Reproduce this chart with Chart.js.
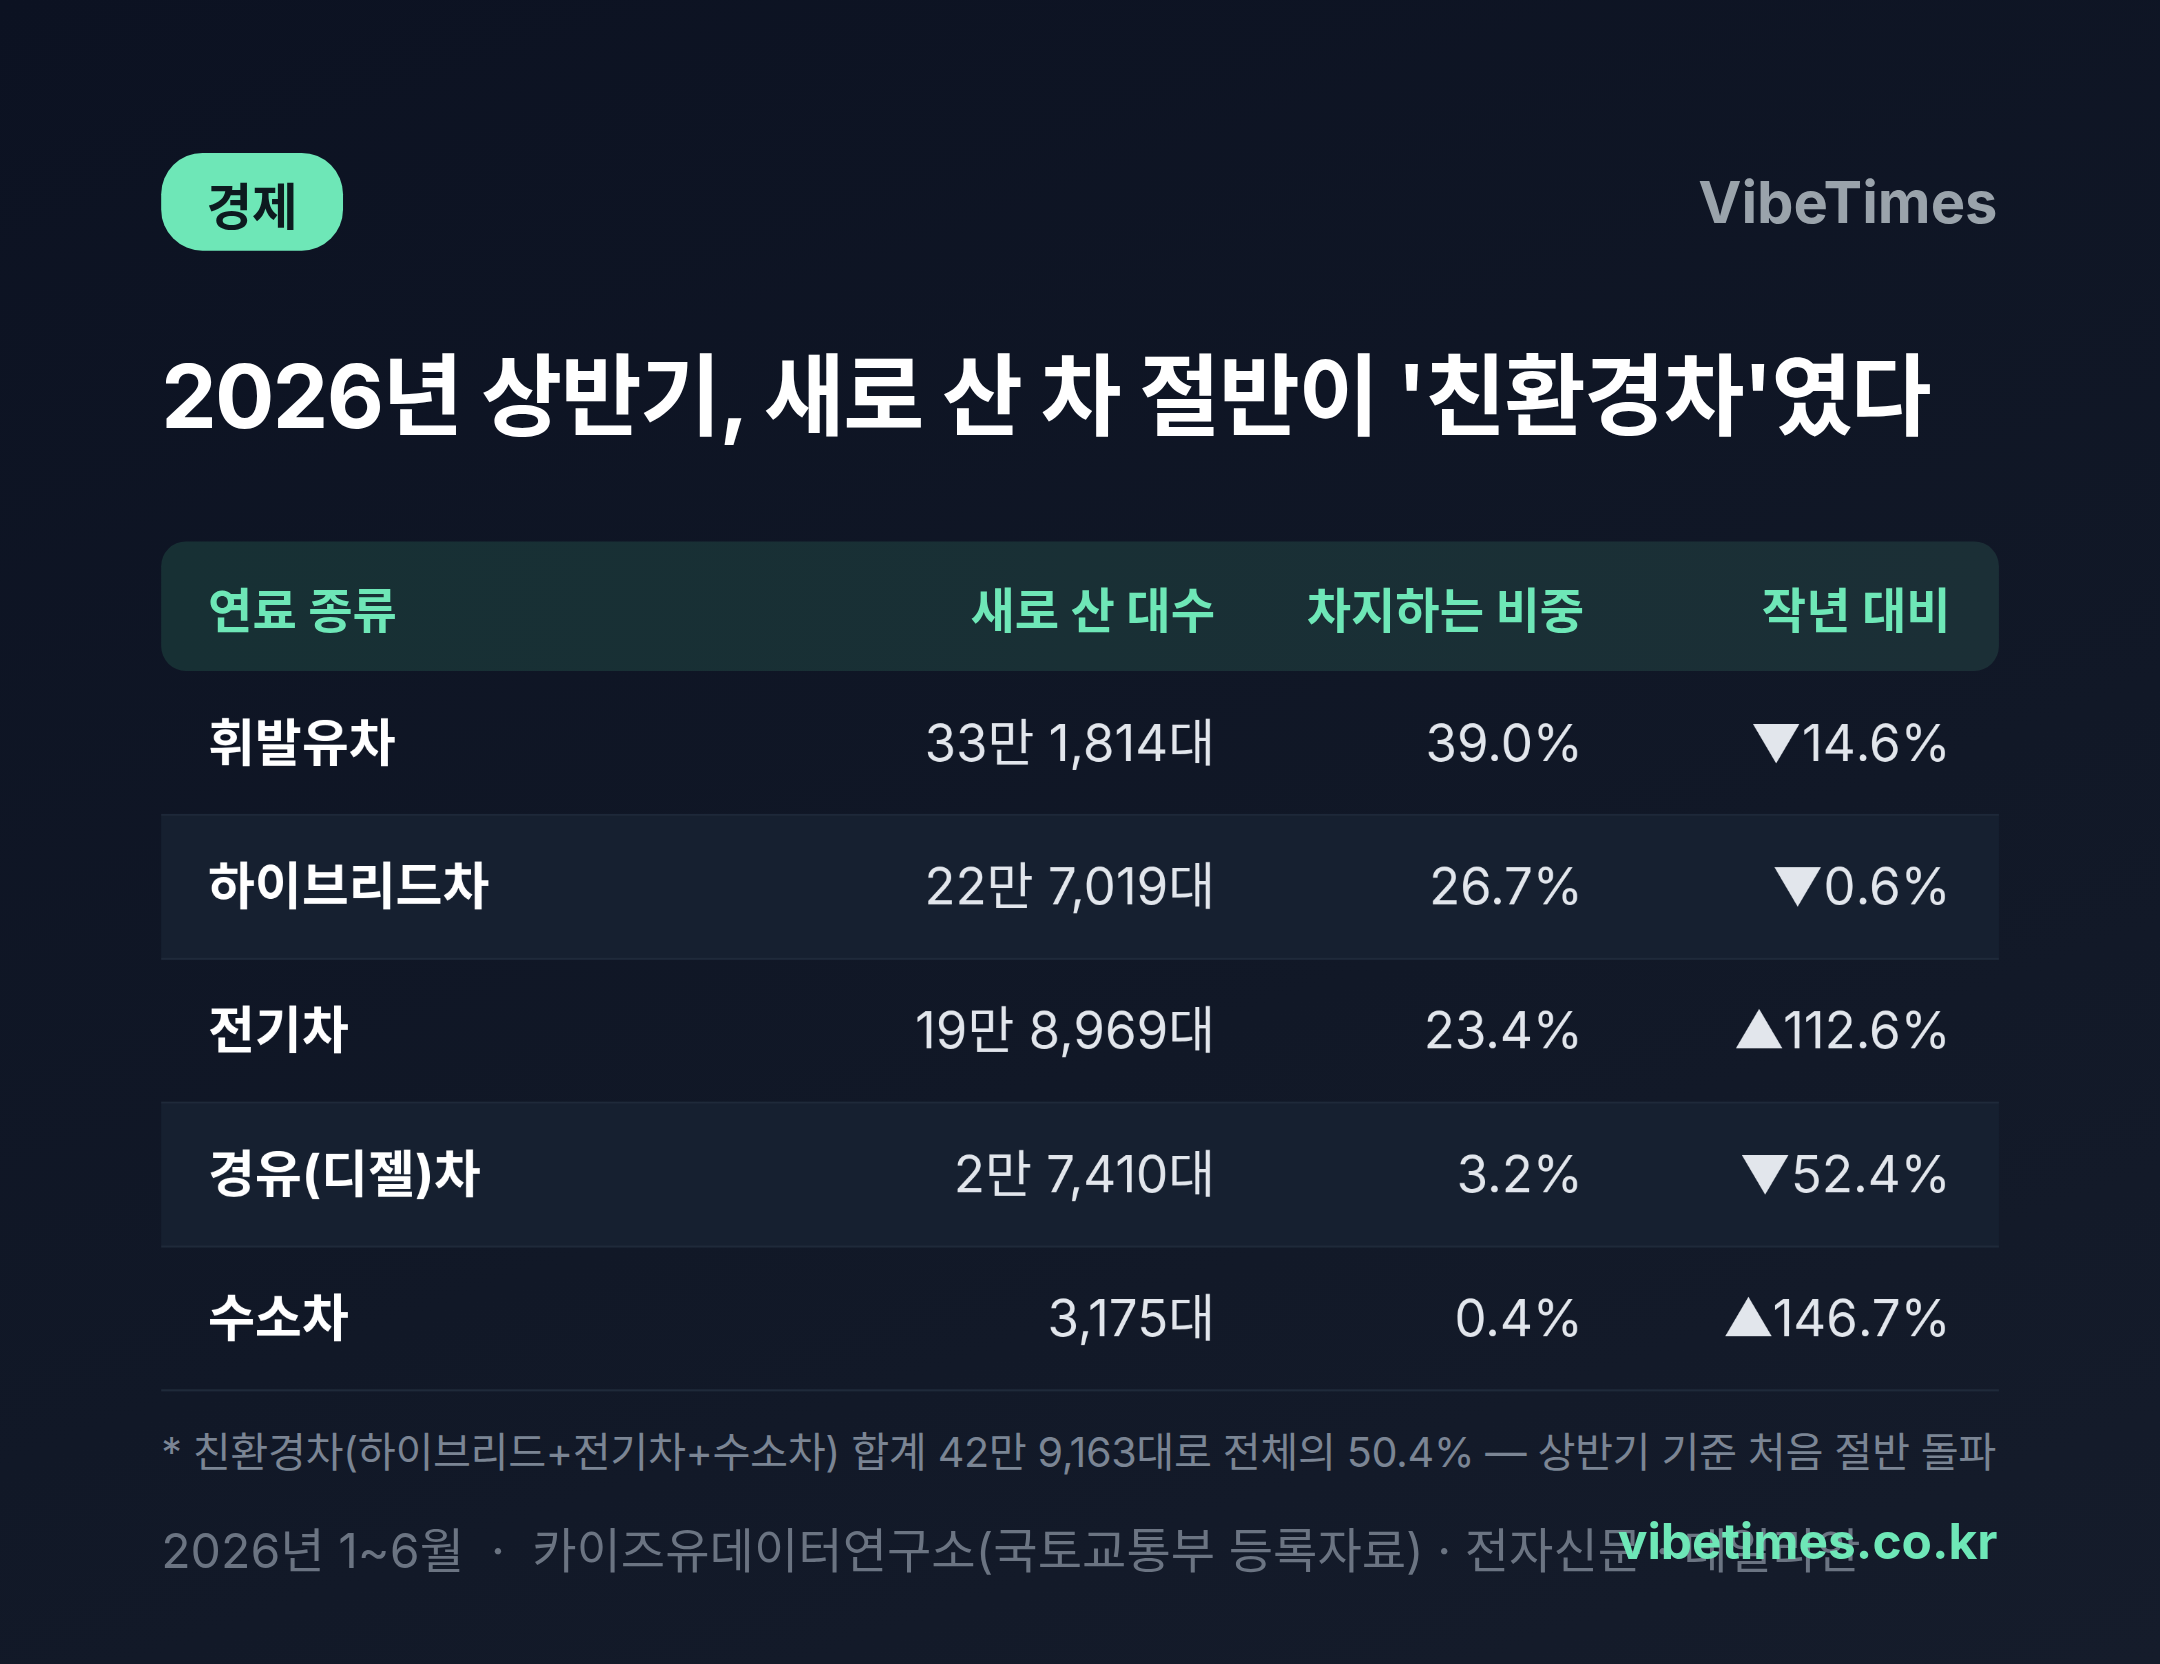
<!DOCTYPE html>
<html>
<head>
<meta charset="utf-8">
<script src="https://cdn.jsdelivr.net/npm/chart.js@4.4.1/dist/chart.umd.min.js"></script>
<style>
  html, body { margin: 0; padding: 0; background: #0d1424; overflow: hidden; }
  #stage {
    position: absolute; left: 0; top: 0; width: 1568px; height: 1208px;
    transform: scale(1.3776); transform-origin: 0 0;
    background: linear-gradient(160deg, #0c1222 0%, #111827 60%, #151c2b 100%);
    font-family: "Inter", "Noto Sans CJK KR", sans-serif; color: #fff;
  }
  .abs { position: absolute; white-space: nowrap; }
  #badge { left: 117px; top: 111px; width: 132px; height: 71px; border-radius: 30px;
    background: #6ee7b7; color: #0d1a1f; font-weight: 700; font-size: 36px;
    display: flex; align-items: center; justify-content: center; }
  #brand { right: 118px; top: 121px; font-size: 42px; font-weight: 700; color: #9aa3ab; }
  #title { left: 117px; top: 237px; font-size: 64px; font-weight: 700; letter-spacing: -1.2px; }
  #head { left: 117px; top: 393px; width: 1334px; height: 94px; border-radius: 18px;
    background: linear-gradient(90deg, #173034, #1b2f36); }
  #head span { position: absolute; top: 22px; font-size: 35px; font-weight: 700; color: #6ee7b7; }
  #wrap { left: 117px; top: 488px; width: 1334px; height: 522px; }
  #note { left: 117px; top: 1030px; font-size: 30px; color: #7b8594; letter-spacing: -0.3px; }
  #src { left: 117px; top: 1097px; font-size: 35px; color: #6b7482; }
  #site { right: 118px; top: 1097px; font-size: 36px; font-weight: 700; color: #6ee7b7; }
</style>
</head>
<body>
<div id="stage">
  <div id="badge" class="abs">경제</div>
  <div id="brand" class="abs">VibeTimes</div>
  <div id="title" class="abs">2026년 상반기, 새로 산 차 절반이 '친환경차'였다</div>
  <div id="head" class="abs">
    <span style="left:34px">연료 종류</span>
    <span style="right:569px">새로 산 대수</span>
    <span style="right:301px">차지하는 비중</span>
    <span style="right:35px">작년 대비</span>
  </div>
  <div id="wrap" class="abs"><canvas id="table"></canvas></div>
  <div id="note" class="abs">* 친환경차(하이브리드+전기차+수소차) 합계 42만 9,163대로 전체의 50.4% — 상반기 기준 처음 절반 돌파</div>
  <div id="src" class="abs">2026년 1~6월 &nbsp;· &nbsp;카이즈유데이터연구소(국토교통부 등록자료) · 전자신문 · 데일리안</div>
  <div id="site" class="abs">vibetimes.co.kr</div>
</div>
<script>
const fuels = ["휘발유차", "하이브리드차", "전기차", "경유(디젤)차", "수소차"];
const units = ["33만 1,814대", "22만 7,019대", "19만 8,969대", "2만 7,410대", "3,175대"];
const shares = [39.0, 26.7, 23.4, 3.2, 0.4];
const yoy = [-14.6, -0.6, 112.6, -52.4, 146.7];

const FONT = '"Inter", "Noto Sans CJK KR", sans-serif';

const tablePlugin = {
  id: "tableCells",
  beforeDatasetsDraw(chart) {
    const { ctx, chartArea, scales } = chart;
    const y = scales.y;
    const band = (chartArea.bottom - chartArea.top) / fuels.length;
    ctx.save();
    fuels.forEach((f, i) => {
      const cy = y.getPixelForValue(i);
      if (i % 2 === 1) {
        ctx.fillStyle = "#162030";
        ctx.fillRect(chartArea.left, cy - band / 2, chartArea.right - chartArea.left, band);
      }
      ctx.fillStyle = "#1f2a3a";
      ctx.fillRect(chartArea.left, cy + band / 2 - 1.5, chartArea.right - chartArea.left, 1.5);
    });
    ctx.restore();
  },
  afterDatasetsDraw(chart) {
    const { ctx, chartArea, scales } = chart;
    const y = scales.y;
    const L = chartArea.left, R = chartArea.right;
    ctx.save();
    ctx.textBaseline = "middle";
    fuels.forEach((f, i) => {
      const cy = y.getPixelForValue(i) + 1;
      ctx.fillStyle = "#ffffff";
      ctx.font = "700 37px " + FONT;
      ctx.textAlign = "left";
      ctx.fillText(f, L + 34, cy);
      ctx.fillStyle = "#e2e6ec";
      ctx.font = "400 37px " + FONT;
      ctx.textAlign = "right";
      ctx.fillText(units[i], R - 569, cy);
      ctx.fillText(shares[i].toFixed(1) + "%", R - 302, cy);
      const v = yoy[i];
      ctx.fillText((v < 0 ? "▼" : "▲") + Math.abs(v).toFixed(1) + "%", R - 35, cy);
    });
    ctx.restore();
  }
};

new Chart(document.getElementById("table"), {
  type: "bar",
  data: {
    labels: fuels,
    datasets: [{ data: shares, backgroundColor: "rgba(0,0,0,0)", borderWidth: 0 }]
  },
  options: {
    indexAxis: "y",
    responsive: true,
    maintainAspectRatio: false,
    animation: false,
    devicePixelRatio: 2,
    layout: { padding: 0 },
    scales: {
      x: { display: false, min: 0, max: 100 },
      y: { display: false, offset: true }
    },
    plugins: { legend: { display: false }, tooltip: { enabled: false } }
  },
  plugins: [tablePlugin]
});
</script>
</body>
</html>
